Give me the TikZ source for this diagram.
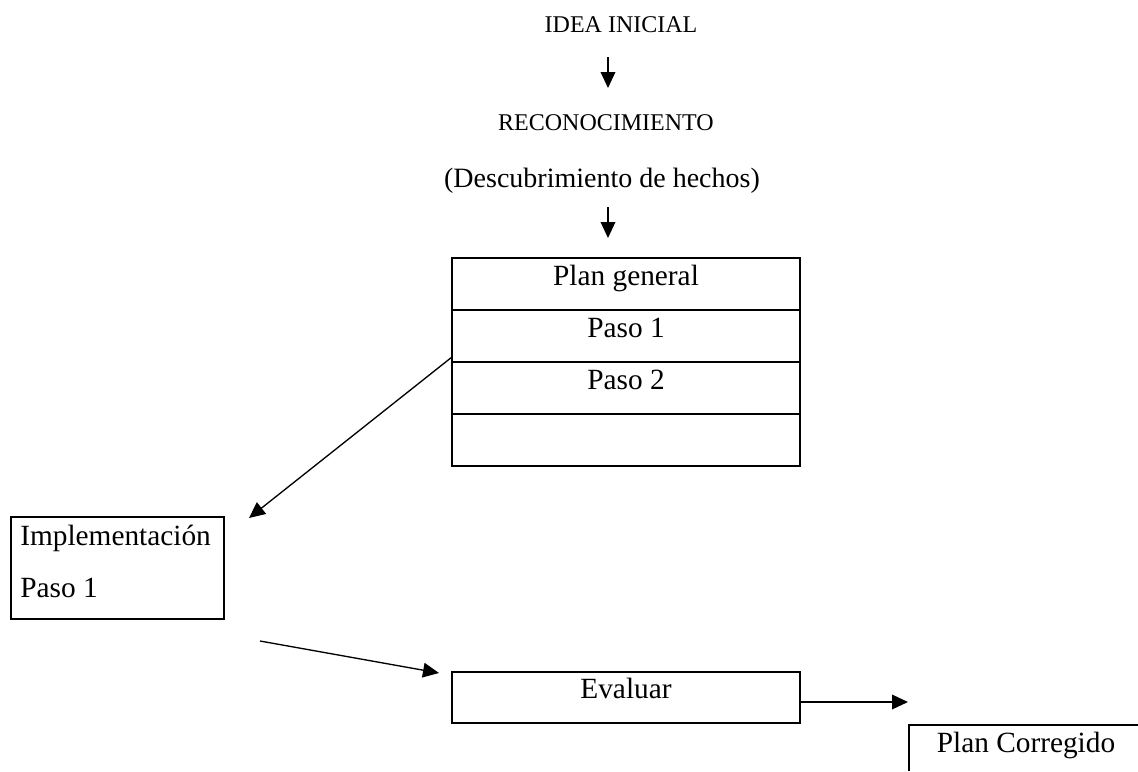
\documentclass[tikz,border=0pt]{standalone}
\usepackage{fontspec}
\setmainfont{Liberation Serif}
\usetikzlibrary{arrows.meta, positioning}

\tikzset{
  caja/.style={draw, line width=1.5pt, inner sep=0pt, outer sep=0pt},
  fila/.style={caja, minimum width=261pt, minimum height=39pt, text height=11.5pt, text depth=10pt},
  flecha/.style={line width=1pt, -{Triangle[length=12pt,width=11pt]}},
  grande/.style={inner sep=0pt, font=\fontsize{22}{26}\selectfont},
  chico/.style={inner sep=0pt, font=\fontsize{18}{21}\selectfont},
}

\begin{document}
\begin{tikzpicture}[x=0.75pt,y=-0.75pt]
\useasboundingbox (0,0) rectangle (1138,771);

% Top titles
\node[chico, anchor=base] (idea) at (621,32) {IDEA INICIAL};
\node[chico, anchor=base] (reco) at (606,130) {RECONOCIMIENTO};
\node[grande, anchor=base, font=\fontsize{21}{25}\selectfont] (desc) at (602,187) {(Descubrimiento de hechos)};

\coordinate (f1a) at (608,57);
\coordinate (f1b) at (608,88);
\draw[flecha] (f1a) -- (f1b);

\coordinate (f2a) at (608,207);
\coordinate (f2b) at (608,238);
\draw[flecha] (f2a) -- (f2b);

% General plan table
\node[fila, grande] (plan) at (626,284) {Plan general};
\node[fila, grande, below=0pt of plan] (paso1) {Paso 1};
\node[fila, grande, below=0pt of paso1] (paso2) {Paso 2};
\node[fila, below=0pt of paso2] (vacia) {};

% Implementation of step 1
\node[caja, minimum width=159.75pt, minimum height=76.5pt] (impl) at (117.5,568) {};
\node[grande, anchor=base west] (implA) at (20,545) {Implementación};
\node[grande, anchor=base west] (implB) at (20,597) {Paso 1};

\coordinate (diagA) at (452,357);
\coordinate (diagB) at (249,518);
\draw[flecha] (diagA) -- (diagB);

% Evaluation
\node[fila, grande, minimum height=38.25pt] (eval) at (626,697.5) {Evaluar};

\coordinate (evA) at (260,641);
\coordinate (evB) at (439,673);
\draw[flecha] (evA) -- (evB);

% Corrected plan
\coordinate (corr) at (909,725);
\draw[line width=1.5pt] (1138,725) -- (corr) -- (909,771);
\node[grande, anchor=base] (corrT) at (1026,752) {Plan Corregido};

\coordinate (corrIn) at (908,702);
\draw[flecha] (eval.east |- corrIn) -- (corrIn);

\end{tikzpicture}
\end{document}
